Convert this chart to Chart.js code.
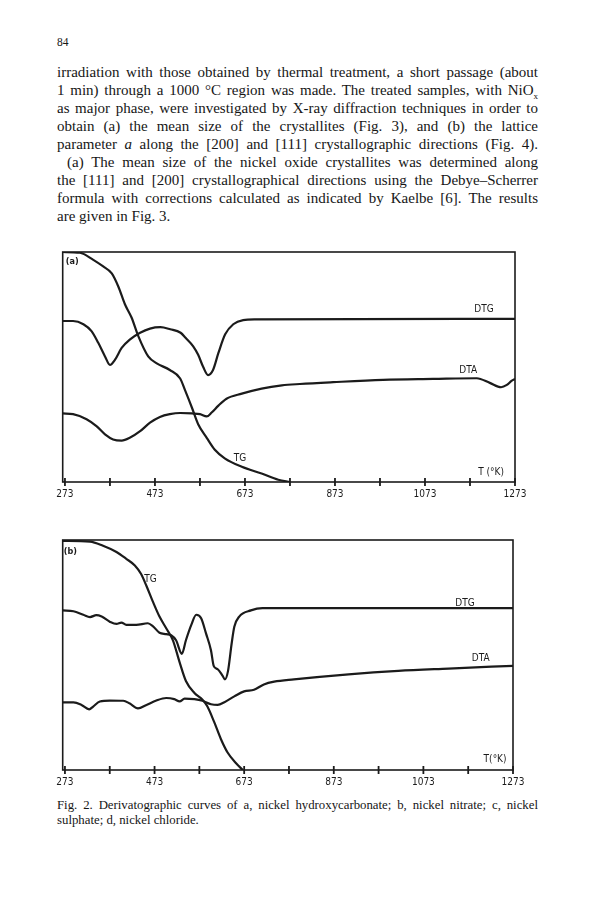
<!DOCTYPE html>
<html>
<head>
<meta charset="utf-8">
<script src="https://cdn.jsdelivr.net/npm/chart.js@4"></script>
<style>
  body { margin: 0; background: #fff; }
  #page { position: relative; width: 595px; height: 903px; color: #161616; font-family: "Liberation Serif", "DejaVu Serif", serif; }
  .folio { position: absolute; left: 57px; top: 36px; font-size: 11.5px; }
  .txt { position: absolute; left: 57px; top: 63px; width: 481px; font-size: 15px; line-height: 18px; }
  .txt div { text-align: justify; text-align-last: justify; white-space: nowrap; }
  .txt div.last { text-align-last: left; }
  .txt div.ind { padding-left: 10px; }
  .cap { position: absolute; left: 57px; top: 798px; width: 481px; font-size: 12.8px; line-height: 15px; }
  .cap div { text-align: justify; text-align-last: justify; white-space: nowrap; }
  .cap div.last { text-align-last: left; }
  canvas { position: absolute; left: 0; }
</style>
</head>
<body>
<div id="page">
  <div class="folio">84</div>
  <div class="txt">
    <div>irradiation with those obtained by thermal treatment, a short passage (about</div>
    <div>1 min) through a 1000 °C region was made. The treated samples, with NiO<sub style="font-size:9px;line-height:0">x</sub></div>
    <div>as major phase, were investigated by X-ray diffraction techniques in order to</div>
    <div>obtain (a) the mean size of the crystallites (Fig. 3), and (b) the lattice</div>
    <div>parameter <i>a</i> along the [200] and [111] crystallographic directions (Fig. 4).</div>
    <div class="ind">(a) The mean size of the nickel oxide crystallites was determined along</div>
    <div>the [111] and [200] crystallographical directions using the Debye–Scherrer</div>
    <div>formula with corrections calculated as indicated by Kaelbe [6]. The results</div>
    <div class="last">are given in Fig. 3.</div>
  </div>
  <canvas id="chartA" width="595" height="270" style="top:240px"></canvas>
  <canvas id="chartB" width="595" height="270" style="top:528px"></canvas>
  <div class="cap">
    <div>Fig. 2. Derivatographic curves of a, nickel hydroxycarbonate; b, nickel nitrate; c, nickel</div>
    <div class="last">sulphate; d, nickel chloride.</div>
  </div>
</div>
<script>
// temperature axis (K)
const tempTicks = [273, 373, 473, 573, 673, 773, 873, 973, 1073, 1173, 1273];
const tempLabels = [273, 473, 673, 873, 1073, 1273];

// (a) nickel hydroxycarbonate  [T, relative signal]
const aTG = [[268,100],[306,99.7],[336,96.6],[358,93.7],[377,90.7],[392,84.8],[406,77.4],[421,71.5],[436,63.4],[458,54.6],[477,51.6],[506,48.7],[529,45.0],[540,39.8],[555,32.4],[569,25.1],[588,19.2],[606,14.0],[628,10.3],[666,6.6],[710,3.7],[747,1.0],[773,0]];
const aDTG = [[268,70.0],[291,70.0],[314,68.6],[332,65.6],[347,60.5],[362,54.6],[373,50.9],[384,53.1],[399,58.3],[417,61.9],[440,64.9],[462,66.7],[485,67.3],[507,66.4],[530,64.9],[541,62.7],[558,59.0],[569,55.3],[580,50.1],[591,46.5],[602,48.7],[614,56.1],[629,64.2],[647,68.6],[669,70.4],[695,70.7],[1273,70.9]];
const aDTA = [[268,29.8],[291,29.5],[321,27.3],[343,24.3],[362,20.7],[380,18.5],[399,18.0],[417,19.2],[440,22.1],[462,25.8],[484,28.3],[506,29.5],[529,30.0],[555,29.8],[573,29.5],[588,28.5],[599,30.2],[614,33.2],[632,36.2],[666,38.4],[710,40.6],[755,42.0],[795,42.6],[869,43.4],[980,44.4],[1091,44.8],[1188,45.1],[1217,43.1],[1242,41.2],[1255,42.2],[1266,44.1],[1273,44.8]];
const aNotes = [['(a)',289,95.6,true],['DTG',1204,75.2],['DTA',1169,48.7],['TG',662,10.2],['T (°K)',1220,4.0]];

// (b) nickel nitrate
const bTG = [[268,99.6],[329,99.3],[358,97.5],[388,94.8],[410,91.8],[429,88.9],[443,85.2],[455,80.0],[469,73.3],[484,66.7],[499,61.6],[514,56.4],[529,46.8],[543,38.7],[562,33.5],[580,30.5],[591,27.6],[606,20.9],[621,13.5],[636,7.6],[655,2.9],[670,0]];
const bDTG = [[268,69.4],[292,69.0],[314,67.5],[329,66.5],[343,67.3],[355,66.7],[373,64.5],[388,63.5],[399,64.1],[410,63.1],[432,63.1],[458,63.8],[469,62.6],[484,59.7],[499,59.1],[510,58.6],[521,56.4],[534,50.5],[543,56.4],[555,63.1],[566,67.5],[577,66.0],[588,59.3],[599,52.0],[605,45.3],[614,43.8],[625,40.9],[630,39.4],[637,43.1],[645,54.9],[651,62.3],[662,66.7],[688,69.4],[714,70.4],[1273,70.4]];
const bDTA = [[268,29.4],[292,29.4],[310,28.3],[327,26.4],[336,27.6],[351,29.8],[373,30.2],[403,30.1],[417,29.0],[436,26.8],[455,28.3],[477,30.2],[499,31.3],[517,30.8],[529,29.8],[540,31.0],[562,30.8],[580,30.1],[599,28.6],[614,28.3],[629,29.5],[651,32.0],[673,34.2],[695,34.9],[717,37.2],[740,38.4],[784,39.4],[906,41.6],[1017,43.1],[1129,44.1],[1273,45.3]];
const bNotes = [['(b)',285,95.1,true],['TG',464,82.7],['DTG',1166,72.5],['DTA',1201,48.6],['T(°K)',1233,4.7]];

const ink = '#1b1b1b';
const labelFont = '"DejaVu Sans Condensed", "DejaVu Sans", sans-serif';

const framePlugin = {
  id: 'frame',
  afterDatasetsDraw(chart, args, opts) {
    const { ctx, chartArea: a, scales: { x, y } } = chart;
    ctx.save();
    ctx.strokeStyle = ink;
    ctx.lineWidth = 1.6;
    ctx.strokeRect(a.left, a.top, a.right - a.left, a.bottom - a.top);
    ctx.lineWidth = 1.8;
    tempTicks.forEach(t => {
      const px = x.getPixelForValue(t);
      ctx.beginPath();
      ctx.moveTo(px, a.bottom - 4);
      ctx.lineTo(px, a.bottom + 4);
      ctx.stroke();
    });
    ctx.fillStyle = ink;
    ctx.textAlign = 'center';
    ctx.textBaseline = 'middle';
    opts.notes.forEach(([txt, t, v, bold]) => {
      ctx.font = (bold ? 'bold 9px ' : '10px ') + labelFont;
      ctx.fillText(txt, x.getPixelForValue(t), y.getPixelForValue(v));
    });
    ctx.restore();
  }
};

const toPts = arr => arr.map(([t, v]) => ({ x: t, y: v }));

function drawChart(id, series, notes, rightPad) {
  const ctx = document.getElementById(id).getContext('2d');
  return new Chart(ctx, {
    type: 'line',
    data: {
      datasets: series.map(s => ({
        data: toPts(s),
        borderColor: ink,
        borderWidth: 2.2,
        pointRadius: 0,
        tension: 0.35,
        cubicInterpolationMode: 'monotone',
        fill: false
      }))
    },
    options: {
      responsive: false,
      animation: false,
      devicePixelRatio: 1,
      layout: { padding: { left: 62.7, right: rightPad, top: 12, bottom: 4 } },
      plugins: { legend: { display: false }, tooltip: { enabled: false }, frame: { notes } },
      scales: {
        x: {
          type: 'linear',
          min: 268,
          max: 1273,
          afterBuildTicks: scale => { scale.ticks = tempTicks.map(v => ({ value: v })); },
          grid: { display: false, drawTicks: false },
          border: { display: false },
          ticks: {
            autoSkip: false,
            maxRotation: 0,
            padding: 6,
            color: ink,
            font: { family: labelFont, size: 10 },
            callback: v => tempLabels.includes(v) ? String(v) : ''
          }
        },
        y: { display: false, min: 0, max: 100 }
      }
    },
    plugins: [framePlugin]
  });
}

drawChart('chartA', [aTG, aDTG, aDTA], aNotes, 80);
drawChart('chartB', [bTG, bDTG, bDTA], bNotes, 82);
</script>
</body>
</html>
